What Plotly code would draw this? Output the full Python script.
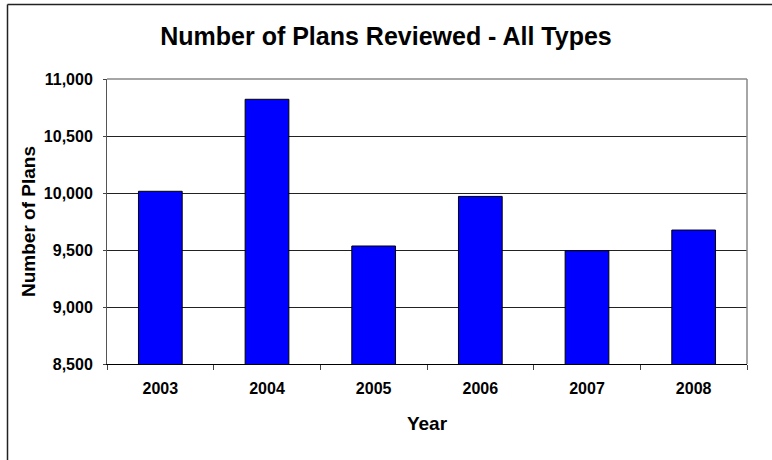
import plotly.graph_objects as go

years = ["2003", "2004", "2005", "2006", "2007", "2008"]
plans = [10015, 10822, 9535, 9970, 9494, 9675]
y_ticks = [8500, 9000, 9500, 10000, 10500, 11000]
y_tick_labels = ["8,500", "9,000", "9,500", "10,000", "10,500", "11,000"]

W, H = 772, 460
L, R, T, B = 107, 25, 79, 96
pw, ph = W - L - R, H - T - B

def px(x):
    return (x - L) / pw

def py(y):
    return (H - B - y) / ph

FONT = "Liberation Sans, Arial, sans-serif"

fig = go.Figure(go.Bar(
    x=years, y=plans,
    marker=dict(color="#0000FF", line=dict(color="#000000", width=1)),
    width=0.41,
))

fig.update_layout(
    width=W, height=H,
    margin=dict(l=L, r=R, t=T, b=B),
    paper_bgcolor="white", plot_bgcolor="white",
    showlegend=False,
    font=dict(family=FONT, color="black"),
    title=dict(text="<b>Number of Plans Reviewed - All Types</b>",
               x=0.5, xanchor="center", y=1 - 36 / H, yanchor="middle",
               font=dict(size=25, family=FONT, color="black")),
    xaxis=dict(
        type="category",
        showline=True, linecolor="black", linewidth=1,
        ticks="outside", ticklen=5, tickcolor="#444", tickson="boundaries",
        tickfont=dict(size=16, family=FONT, color="black"),
        ticklabelstandoff=10,
        title=dict(text="<b>Year</b>", font=dict(size=19, family=FONT), standoff=20),
        showgrid=False,
    ),
    yaxis=dict(
        range=[8500, 11000],
        tickvals=y_ticks, ticktext=["<b>%s</b>" % t for t in y_tick_labels],
        showline=True, linecolor="#555", linewidth=1,
        ticks="outside", ticklen=3, tickcolor="#444",
        tickfont=dict(size=16, family=FONT, color="black"),
        ticklabelstandoff=7,
        showgrid=True, gridcolor="#222", gridwidth=1,
        title=dict(text="<b>Number of Plans</b>", font=dict(size=19, family=FONT), standoff=3),
        zeroline=False,
    ),
)
fig.update_xaxes(ticktext=["<b>%s</b>" % y for y in years], tickvals=years)

# plot area border (top/right grey)
fig.add_shape(type="line", xref="paper", yref="paper", x0=0, x1=1, y0=1, y1=1,
              line=dict(color="#888", width=1.5))
fig.add_shape(type="line", xref="paper", yref="paper", x0=1, x1=1, y0=0, y1=1,
              line=dict(color="#888", width=1.5))
# outer chart border
fig.add_shape(type="line", xref="paper", yref="paper", x0=px(7.5), x1=px(780), y0=py(4.5), y1=py(4.5),
              line=dict(color="#222", width=1.5))
fig.add_shape(type="line", xref="paper", yref="paper", x0=px(7.5), x1=px(7.5), y0=py(4.5), y1=py(470),
              line=dict(color="#222", width=1.5))

fig.write_html("out.html")
